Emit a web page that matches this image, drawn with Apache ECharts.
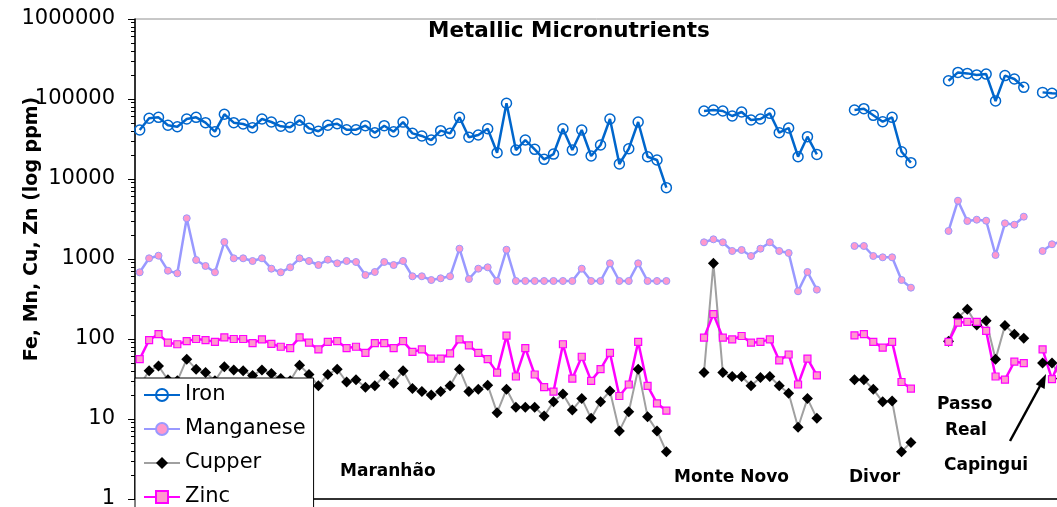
<!DOCTYPE html>
<html>
<head>
<meta charset="utf-8">
<script src="https://cdn.jsdelivr.net/npm/echarts@6/dist/echarts.min.js"></script>
<style>
html,body{margin:0;padding:0;background:#fff;}
#chart{width:1057px;height:507px;}
</style>
</head>
<body>
<div id="chart"></div>
<script>
// ---- data (ppm) ----
var groups = ['Maranhão', 'Monte Novo', 'Divor', 'Passo Real', 'Capingui'];
var gapSizes = [3, 3, 3, 1];

var ironMaranhao = [41000, 57400, 59000, 46900, 45000, 56200, 59000, 50600, 39000, 64400, 50600, 48700, 43800, 56200, 51600, 45600, 44300, 54200, 43000, 39500, 46900, 49100, 41300, 41300, 46400, 37900, 46400, 39000, 51400, 37200, 34500, 30700, 40200, 37200, 59000, 33200, 35500, 42500, 21300, 88400, 23000, 30700, 23500, 17600, 20500, 42500, 23000, 41000, 19400, 26600, 56200, 15400, 23900, 51600, 19000, 17300, 7800];
var ironMonteNovo = [70800, 72900, 70800, 61300, 68800, 54600, 56200, 66200, 37900, 43400, 19000, 33800, 20300];
var ironDivor = [72900, 75700, 62500, 52000, 59000, 21900, 16000];
var ironPassoReal = [169000, 215000, 209000, 200000, 205000, 94400, 196000, 178000, 140000];
var ironCapingui = [121000, 118000, 116000];

var mnMaranhao = [682, 1020, 1100, 714, 662, 3230, 972, 818, 682, 1630, 1020, 1020, 944, 1020, 757, 682, 787, 1020, 944, 841, 980, 883, 944, 917, 631, 688, 917, 841, 944, 608, 608, 546, 574, 608, 1345, 562, 757, 787, 531, 1306, 531, 531, 531, 531, 531, 531, 531, 757, 531, 531, 883, 531, 531, 883, 531, 531, 531];
var mnMonteNovo = [1617, 1763, 1617, 1259, 1296, 1090, 1345, 1617, 1259, 1189, 395, 688, 414];
var mnDivor = [1454, 1454, 1090, 1050, 1050, 546, 438];
var mnPassoReal = [2239, 5350, 2985, 3100, 3010, 1122, 2790, 2685, 3380];
var mnCapingui = [1259, 1528, 1650];

var cuMaranhao = [26, 40, 46, 31, 30, 56, 42, 38, 30, 45, 41, 40, 35, 41, 37, 32, 30, 47, 36, 26, 36, 42, 29, 31, 25, 26, 35, 28, 40, 24, 22, 20, 22, 26, 42, 22, 23.5, 26.5, 12, 23.5, 14, 14, 14, 10.9, 16.4, 20.5, 13, 18, 10.2, 16.4, 22.4, 7.1, 12.3, 42, 10.7, 7.1, 3.9];
var cuMonteNovo = [38, 883, 38, 34, 34, 26, 33, 34, 26, 21, 7.9, 18, 10.2];
var cuDivor = [31, 31, 23.5, 16.4, 16.8, 3.9, 5.1];
var cuPassoReal = [94, 187, 235, 150, 169, 56, 147, 115, 102];
var cuCapingui = [50, 50, 32];

var znMaranhao = [56, 97, 115, 90, 86, 94, 100, 97, 92, 105, 100, 100, 89, 99, 87, 80, 77, 105, 90, 74, 92, 94, 77, 80, 67, 89, 89, 77, 94, 69, 74, 57, 57, 66, 99, 83, 67, 56, 38, 110, 34, 77, 36, 25, 22, 86, 32, 60, 30, 42, 67, 19.4, 27, 92, 26, 15.7, 12.7];
var znMonteNovo = [104, 205, 104, 99, 109, 90, 92, 99, 54, 64, 27, 57, 35];
var znDivor = [111, 115, 92, 78, 92, 29, 24];
var znPassoReal = [92, 160, 164, 164, 126, 34, 31, 52, 50];
var znCapingui = [74, 31.6, 61];

var majorTicks = [1, 10, 100, 1000, 10000, 100000, 1000000];

// ---- assembly ----
function assemble(parts) {
  var out = [];
  parts.forEach(function (p, i) {
    out = out.concat(p);
    if (i < gapSizes.length) { for (var k = 0; k < gapSizes[i]; k++) out.push(null); }
  });
  return out;
}
var iron = assemble([ironMaranhao, ironMonteNovo, ironDivor, ironPassoReal, ironCapingui]);
var manganese = assemble([mnMaranhao, mnMonteNovo, mnDivor, mnPassoReal, mnCapingui]);
var cupper = assemble([cuMaranhao, cuMonteNovo, cuDivor, cuPassoReal, cuCapingui]);
var zinc = assemble([znMaranhao, znMonteNovo, znDivor, znPassoReal, znCapingui]);

var sizes = [ironMaranhao.length, ironMonteNovo.length, ironDivor.length, ironPassoReal.length, ironCapingui.length];
var categories = [];
sizes.forEach(function (n, i) {
  for (var k = 1; k <= n; k++) categories.push(groups[i] + ' ' + k);
  if (i < gapSizes.length) { for (var g = 0; g < gapSizes[i]; g++) categories.push('gap' + i + '-' + g); }
});

var allTicks = [];
for (var e = 0; e < 6; e++) { for (var m = 1; m <= 9; m++) allTicks.push(m * Math.pow(10, e)); }
allTicks.push(1000000);

var FONT = 'DejaVu Sans';
var chart = echarts.init(document.getElementById('chart'), null, { renderer: 'canvas' });
var option = {
  animation: false,
  backgroundColor: '#fff',
  title: {
    text: 'Metallic Micronutrients',
    left: 428, top: 20, padding: 0,
    textStyle: { fontFamily: FONT, fontWeight: 'bold', fontSize: 21.5, color: '#000' }
  },
  grid: {
    left: 135, top: 19, width: 99 * 9.405, height: 480,
    outerBoundsMode: 'none', containLabel: false,
    show: true, borderColor: '#909090', borderWidth: 1, backgroundColor: 'transparent'
  },
  legend: {
    orient: 'vertical', left: 135, top: 378, height: 160,
    padding: [5, 8, 5, 8], itemGap: 10, itemWidth: 36, itemHeight: 15,
    backgroundColor: '#fff', borderColor: '#000', borderWidth: 1,
    textStyle: { fontFamily: FONT, fontSize: 21, color: '#000', lineHeight: 24 },
    data: ['Iron', 'Manganese', 'Cupper', 'Zinc']
  },
  xAxis: {
    type: 'category', data: categories, boundaryGap: true,
    axisLine: { show: true, lineStyle: { color: '#000', width: 1.5 } },
    axisTick: { show: false }, axisLabel: { show: false }, splitLine: { show: false }
  },
  yAxis: [{
    type: 'log', logBase: 10, min: 1, max: 1000000,
    axisLine: { show: true, lineStyle: { color: '#000', width: 1.5 } },
    axisTick: { show: true, length: 4, lineStyle: { color: '#000', width: 1 }, customValues: allTicks },
    axisLabel: {
      customValues: majorTicks, margin: 20,
      fontFamily: FONT, fontSize: 21, color: '#000',
      formatter: function (v) { return String(Math.round(v)); }
    },
    splitLine: { show: false }
  }, {
    type: 'log', logBase: 10, min: 1, max: 1000000, position: 'left', offset: 0,
    axisLine: { show: false },
    axisTick: { show: true, length: 7, lineStyle: { color: '#000', width: 1 }, customValues: majorTicks },
    axisLabel: { show: false }, splitLine: { show: false }
  }],
  series: [{
    name: 'Iron', type: 'line', data: iron, connectNulls: false, showAllSymbol: true,
    symbol: 'circle', symbolSize: 10,
    lineStyle: { color: '#0066CC', width: 2.5 },
    itemStyle: { color: 'rgba(255,255,255,0)', borderColor: '#0066CC', borderWidth: 1.5 }
  }, {
    name: 'Manganese', type: 'line', data: manganese, connectNulls: false, showAllSymbol: true,
    symbol: 'circle', symbolSize: 7,
    lineStyle: { color: '#9999FF', width: 2.5 },
    itemStyle: { color: '#FF99CC', borderColor: '#9999FF', borderWidth: 1 }
  }, {
    name: 'Cupper', type: 'line', data: cupper, connectNulls: false, showAllSymbol: true,
    symbol: 'diamond', symbolSize: 11,
    lineStyle: { color: '#A0A0A0', width: 2 },
    itemStyle: { color: '#000', borderColor: '#000', borderWidth: 0 }
  }, {
    name: 'Zinc', type: 'line', data: zinc, connectNulls: false, showAllSymbol: true,
    symbol: 'rect', symbolSize: 7,
    lineStyle: { color: '#FF00FF', width: 2.5 },
    itemStyle: { color: '#FF99CC', borderColor: '#FF00FF', borderWidth: 1.2 }
  }],
  graphic: [
    { type: 'text', rotation: Math.PI / 2, x: 32, y: 229, z: 10,
      style: { text: 'Fe, Mn, Cu, Zn (log ppm)', font: 'bold 19px "DejaVu Sans"', fill: '#000', align: 'center', verticalAlign: 'middle' } },
    { type: 'text', x: 340, y: 472, z: 10, style: { text: 'Maranhão', font: 'bold 17px "DejaVu Sans"', fill: '#000', align: 'left', verticalAlign: 'middle' } },
    { type: 'text', x: 674, y: 478, z: 10, style: { text: 'Monte Novo', font: 'bold 17px "DejaVu Sans"', fill: '#000', align: 'left', verticalAlign: 'middle' } },
    { type: 'text', x: 849, y: 478, z: 10, style: { text: 'Divor', font: 'bold 17px "DejaVu Sans"', fill: '#000', align: 'left', verticalAlign: 'middle' } },
    { type: 'text', x: 937, y: 405, z: 10, style: { text: 'Passo', font: 'bold 17px "DejaVu Sans"', fill: '#000', align: 'left', verticalAlign: 'middle' } },
    { type: 'text', x: 945, y: 431, z: 10, style: { text: 'Real', font: 'bold 17px "DejaVu Sans"', fill: '#000', align: 'left', verticalAlign: 'middle' } },
    { type: 'text', x: 944, y: 466, z: 10, style: { text: 'Capingui', font: 'bold 17px "DejaVu Sans"', fill: '#000', align: 'left', verticalAlign: 'middle' } },
    { type: 'line', z: 10, shape: { x1: 1010, y1: 441, x2: 1040, y2: 386 }, style: { stroke: '#000', lineWidth: 2.5 } },
    { type: 'polygon', z: 10, shape: { points: [[1046, 374], [1044.6, 389], [1035.8, 384.3]] }, style: { fill: '#000' } }
  ]
};
chart.setOption(option);
</script>
</body>
</html>
